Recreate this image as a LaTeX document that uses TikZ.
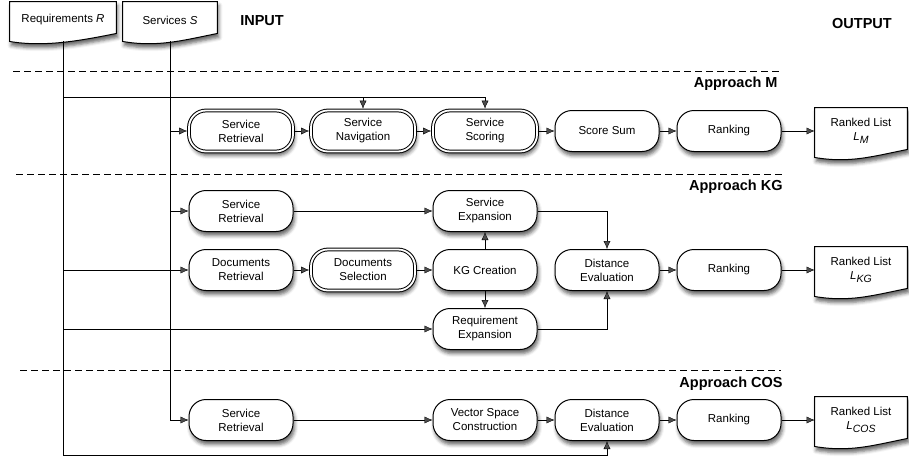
\documentclass[tikz,border=0pt]{standalone}
\usepackage{fontspec}
\setmainfont{Liberation Sans}
\usepackage{tikz}
\usetikzlibrary{positioning}
\usetikzlibrary{calc,arrows.meta}
\usetikzlibrary{shadows.blur}
\usetikzlibrary{backgrounds}

% document shape drawn behind a node
\newcommand{\docoutline}[1]{%
  \begin{pgfonlayer}{background}
    \draw[docline] (#1.north west) -- (#1.north east) -- ([yshift=5pt]#1.south east)
      .. controls +(-35pt,-7pt) and +(35pt,-6pt) .. ([yshift=-3pt]#1.south west) -- cycle;
  \end{pgfonlayer}}
\newcommand{\lsub}[1]{\textit{L}\raisebox{-3.5pt}{\fontsize{10.5}{10.5}\selectfont\textit{#1}}}

\begin{document}
\begin{tikzpicture}[
    x=1pt, y=1pt,
    node distance=17pt, % gap between neighbouring steps
    font=\fontsize{11.5}{14}\selectfont,
    line width=0.9pt,
    >={Latex[length=8pt,width=7pt]}
  ]

  % Styles
  \tikzset{
    shade/.style={blur shadow={shadow xshift=1.5pt, shadow yshift=-4pt, shadow blur radius=3.5pt, shadow opacity=60}},
    proc/.style={draw, fill=white, line width=1pt, rounded corners=17pt, minimum width=104pt, minimum height=41pt, align=center, shade},
    dproc/.style={proc, double, double distance=1.8pt},
    docbox/.style={minimum width=92pt, minimum height=46pt, align=center, inner sep=1pt},
    docline/.style={draw, fill=white, line width=1pt, shade},
    lbl/.style={font=\fontsize{14.5}{17}\selectfont\bfseries, inner sep=0pt},
    sep/.style={dash pattern=on 7pt off 4pt, line width=0.8pt},
    toD/.style={->, shorten >=1.4pt}
  }

  \useasboundingbox (0,0) rectangle (909,-458);

  % Inputs and headings
  \node[docbox, minimum width=106pt, minimum height=36pt] (reqdoc) at (63,-20) {Requirements \textit{R}};
  \node[docbox, minimum width=94pt, minimum height=36pt] (servdoc) at (170,-20) {Services \textit{S}};
  \node[lbl] (inlbl) at (262,-21) {INPUT};
  \node[lbl] (outlbl) at (862,-24) {OUTPUT};

  % Separators
  \draw[sep] (13,-71) -- (782,-71);
  \draw[sep] (16,-174) -- (782,-174);
  \draw[sep] (20,-370) -- (781,-370);

  % Approach M
  \node[lbl, anchor=east] (apm) at (778,-84) {Approach M};
  \node[dproc] (mret) at (241,-131) {Service\\Retrieval};
  \node[dproc, right=of mret] (mnav) {Service\\Navigation};
  \node[dproc, right=of mnav] (mscore) {Service\\Scoring};
  \node[proc, right=of mscore] (msum) {Score Sum};
  \node[proc, right=of msum] (mrank) {Ranking};
  \node[docbox] (mlist) at (861,-131) {Ranked List\\\lsub{M}};

  % Approach KG
  \node[lbl, anchor=east] (apkg) at (783,-187) {Approach KG};
  \node[proc] (kdocret) at (241,-270) {Documents\\Retrieval};
  \node[dproc, right=of kdocret] (kdocsel) {Documents\\Selection};
  \node[proc, right=of kdocsel] (kgcr) {KG Creation};
  \node[proc, right=of kgcr] (kdist) {Distance\\Evaluation};
  \node[proc, right=of kdist] (krank) {Ranking};
  \node[proc, above=of kdocret] (ksret) {Service\\Retrieval};
  \node[proc, above=of kgcr] (ksexp) {Service\\Expansion};
  \node[proc, below=of kgcr] (kreq) {Requirement\\Expansion};
  \node[docbox] (klist) at (861,-270) {Ranked List\\\lsub{KG}};

  % Approach COS
  \node[lbl, anchor=east] (apcos) at (783,-384) {Approach COS};
  \node[proc] (csret) at (241,-420) {Service\\Retrieval};
  \node[proc, right=139pt of csret] (cvec) {Vector Space\\Construction};
  \node[proc, right=of cvec] (cdist) {Distance\\Evaluation};
  \node[proc, right=of cdist] (crank) {Ranking};
  \node[docbox] (clist) at (861,-420) {Ranked List\\\lsub{COS}};

  % Document shapes
  \docoutline{reqdoc}
  \docoutline{servdoc}
  \docoutline{mlist}
  \docoutline{klist}
  \docoutline{clist}

  % Feeds from the inputs
  \draw[->] ([yshift=-3pt]reqdoc.south) |- ([yshift=-14pt]cdist.south) -- (cdist.south);
  \coordinate (mbus) at ([yshift=13pt]mnav.north);
  \draw[toD] (reqdoc.south |- mbus) -| (mscore.north);
  \draw[toD] (mbus) -- (mnav.north);
  \draw[->] (reqdoc.south |- kdocret) -- (kdocret);
  \draw[->] (reqdoc.south |- kreq) -- (kreq);
  \draw[->] ([yshift=-3pt]servdoc.south) |- (csret);
  \draw[toD] (servdoc.south |- mret) -- (mret);
  \draw[->] (servdoc.south |- ksret) -- (ksret);

  % Approach M flow
  \draw[toD] (mret) -- (mnav);
  \draw[toD] (mnav) -- (mscore);
  \draw[->] (mscore) -- (msum);
  \draw[->] (msum) -- (mrank);
  \draw[->] (mrank) -- (mlist);

  % Approach KG flow
  \draw[->] (ksret) -- (ksexp);
  \draw[toD] (kdocret) -- (kdocsel);
  \draw[->] (kdocsel) -- (kgcr);
  \draw[->] (kgcr) -- (ksexp);
  \draw[->] (kgcr) -- (kreq);
  \draw[->] (ksexp) -| (kdist);
  \draw[->] (kreq) -| (kdist);
  \draw[->] (kdist) -- (krank);
  \draw[->] (krank) -- (klist);

  % Approach COS flow
  \draw[->] (csret) -- (cvec);
  \draw[->] (cvec) -- (cdist);
  \draw[->] (cdist) -- (crank);
  \draw[->] (crank) -- (clist);

\end{tikzpicture}
\end{document}
